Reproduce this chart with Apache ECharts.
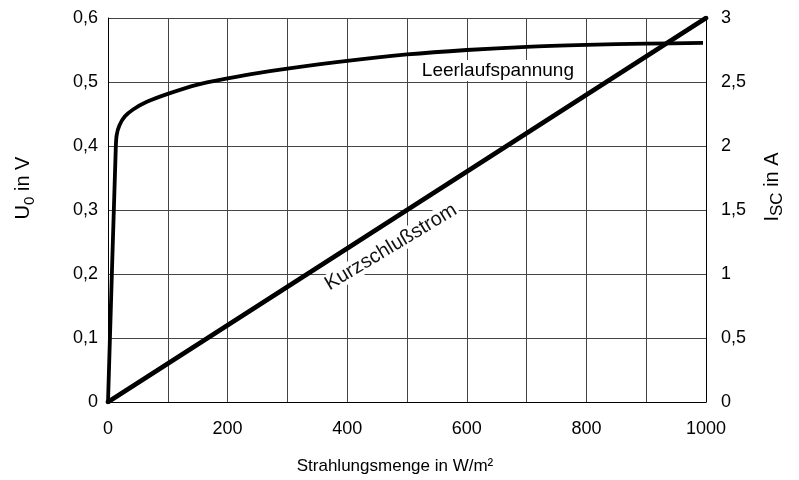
<!DOCTYPE html>
<html>
<head>
<meta charset="utf-8">
<script src="https://cdn.jsdelivr.net/npm/echarts@6/dist/echarts.min.js"></script>
<style>html,body{margin:0;padding:0;background:#fff}#c{width:799px;height:480px}</style>
</head>
<body>
<div id="c"></div>
<script>
// Data
const xTicks = [0, 200, 400, 600, 800, 1000];
const leftTicks = [0, 0.1, 0.2, 0.3, 0.4, 0.5, 0.6];
const rightTicks = [0, 0.5, 1, 1.5, 2, 2.5, 3];
// Leerlaufspannung U0 (V) over irradiance (W/m²)
const uX = [0, 13, 14.5, 19, 28, 42, 65, 100, 150, 200, 250, 300, 400, 500, 600, 700, 800, 900, 995];
const uY = [0, 0.397, 0.417, 0.432, 0.446, 0.457, 0.469, 0.4815, 0.496, 0.5055, 0.514, 0.521, 0.533, 0.543, 0.55, 0.555, 0.558, 0.56, 0.561];
// Kurzschlußstrom Isc (A)
const iX = [0, 1000];
const iY = [0, 3];
// annotation anchors (data coordinates)
const uLabel = { text: 'Leerlaufspannung', x: 652, y: 0.518 };
const iLabel = { text: 'Kurzschlußstrom', x: 473, y: 1.21 };

const FONT = '"Liberation Sans", Arial, sans-serif';
const fmtComma = v => (Math.round(v * 10) / 10).toString().replace('.', ',');

const chart = echarts.init(document.getElementById('c'), null, { renderer: 'canvas' });
chart.setOption({
  backgroundColor: '#fff',
  animation: false,
  grid: { left: 108, right: 93, top: 18, bottom: 72, containLabel: false },
  xAxis: {
    type: 'value', min: 0, max: 1000, interval: 100,
    name: 'Strahlungsmenge in W/m²', nameLocation: 'middle', nameGap: 56,
    nameTextStyle: { fontFamily: FONT, fontSize: 17, color: '#000', padding: [0, 24, 0, 0] },
    axisLine: { show: true, lineStyle: { color: '#000', width: 1 } },
    axisTick: { show: false },
    axisLabel: { interval: 1, fontFamily: FONT, fontSize: 18, color: '#000', margin: 18,
      formatter: v => (xTicks.indexOf(v) >= 0 ? String(v) : '') },
    splitLine: { show: true, lineStyle: { color: '#444', width: 1 } }
  },
  yAxis: [{
    type: 'value', min: 0, max: 0.6, interval: 0.1, position: 'left',
    name: '{a|U}{s|0}{a| in V}', nameLocation: 'middle', nameRotate: 90, nameGap: 71,
    nameTextStyle: { color: '#000', padding: [0, 0, 0, 44],
      rich: {
        a: { fontFamily: FONT, fontSize: 20, lineHeight: 24, verticalAlign: 'top', color: '#000' },
        s: { fontFamily: FONT, fontSize: 15, lineHeight: 15, verticalAlign: 'bottom', color: '#000' }
      } },
    axisLine: { show: true, lineStyle: { color: '#000', width: 1 } },
    axisTick: { show: false },
    axisLabel: { fontFamily: FONT, fontSize: 18, color: '#000', margin: 10,
      formatter: v => (leftTicks.some(t => Math.abs(t - v) < 1e-9) ? fmtComma(v) : '') },
    splitLine: { show: true, lineStyle: { color: '#444', width: 1 } }
  }, {
    type: 'value', min: 0, max: 3, interval: 0.5, position: 'right',
    name: '{a|I}{s|SC}{a| in A}', nameLocation: 'middle', nameRotate: 90, nameGap: 56,
    nameTextStyle: { color: '#000', padding: [0, 0, 0, 46],
      rich: {
        a: { fontFamily: FONT, fontSize: 20, lineHeight: 24, verticalAlign: 'top', color: '#000' },
        s: { fontFamily: FONT, fontSize: 17, lineHeight: 17, verticalAlign: 'bottom', color: '#000' }
      } },
    axisLine: { show: true, lineStyle: { color: '#000', width: 1 } },
    axisTick: { show: false },
    axisLabel: { fontFamily: FONT, fontSize: 18, color: '#000', margin: 15,
      formatter: v => (rightTicks.some(t => Math.abs(t - v) < 1e-9) ? fmtComma(v) : '') },
    splitLine: { show: false }
  }],
  series: [{
    name: 'Leerlaufspannung', type: 'line', yAxisIndex: 0,
    data: uX.map((x, i) => [x, uY[i]]),
    showSymbol: false, smooth: 0.3,
    lineStyle: { color: '#000', width: 3.8, cap: 'butt', join: 'round' },
    markPoint: {
      symbol: 'rect', symbolSize: 1, itemStyle: { color: 'rgba(0,0,0,0)' },
      label: { show: true, position: 'inside', fontFamily: FONT, fontSize: 19, color: '#000',
        backgroundColor: '#fff', padding: [1, 3] },
      data: [{ coord: [uLabel.x, uLabel.y], label: { formatter: uLabel.text } }]
    },
    z: 3
  }, {
    name: 'Kurzschlußstrom', type: 'line', yAxisIndex: 1,
    data: iX.map((x, i) => [x, iY[i]]),
    showSymbol: false,
    lineStyle: { color: '#000', width: 4.6, cap: 'round' },
    markPoint: {
      symbol: 'rect', symbolSize: 1, itemStyle: { color: 'rgba(0,0,0,0)' },
      label: { show: true, position: 'inside', fontFamily: FONT, fontSize: 20, color: '#111',
        backgroundColor: '#fff', padding: [0, 2], rotate: 31 },
      data: [{ coord: [iLabel.x, iLabel.y], label: { formatter: iLabel.text } }]
    },
    z: 4
  }]
});
</script>
</body>
</html>
